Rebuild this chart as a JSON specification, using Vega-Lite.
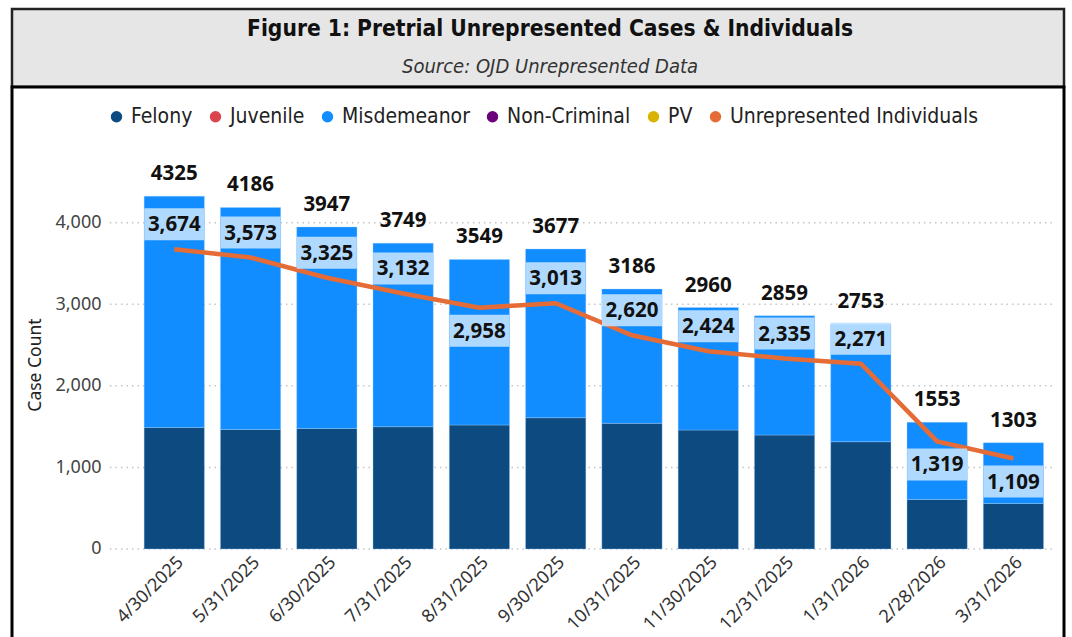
{
  "$schema": "https://vega.github.io/schema/vega-lite/v6.json",
  "padding": {"left": 10, "top": 7, "right": 0, "bottom": 0},
  "background": "white",
  "spacing": 0,
  "bounds": "flush",
  "datasets": {
    "header": [
      {"line": "title", "text": "Figure 1: Pretrial Unrepresented Cases & Individuals"},
      {"line": "subtitle", "text": "Source: OJD Unrepresented Data"}
    ],
    "cases": [
      {"date": "4/30/2025", "type": "Felony", "count": 1490},
      {"date": "4/30/2025", "type": "Misdemeanor", "count": 2835},
      {"date": "5/31/2025", "type": "Felony", "count": 1466},
      {"date": "5/31/2025", "type": "Misdemeanor", "count": 2720},
      {"date": "6/30/2025", "type": "Felony", "count": 1478},
      {"date": "6/30/2025", "type": "Misdemeanor", "count": 2469},
      {"date": "7/31/2025", "type": "Felony", "count": 1499},
      {"date": "7/31/2025", "type": "Misdemeanor", "count": 2250},
      {"date": "8/31/2025", "type": "Felony", "count": 1520},
      {"date": "8/31/2025", "type": "Misdemeanor", "count": 2029},
      {"date": "9/30/2025", "type": "Felony", "count": 1609},
      {"date": "9/30/2025", "type": "Misdemeanor", "count": 2068},
      {"date": "10/31/2025", "type": "Felony", "count": 1540},
      {"date": "10/31/2025", "type": "Misdemeanor", "count": 1646},
      {"date": "11/30/2025", "type": "Felony", "count": 1458},
      {"date": "11/30/2025", "type": "Misdemeanor", "count": 1502},
      {"date": "12/31/2025", "type": "Felony", "count": 1397},
      {"date": "12/31/2025", "type": "Misdemeanor", "count": 1462},
      {"date": "1/31/2026", "type": "Felony", "count": 1315},
      {"date": "1/31/2026", "type": "Misdemeanor", "count": 1438},
      {"date": "2/28/2026", "type": "Felony", "count": 608},
      {"date": "2/28/2026", "type": "Misdemeanor", "count": 945},
      {"date": "3/31/2026", "type": "Felony", "count": 559},
      {"date": "3/31/2026", "type": "Misdemeanor", "count": 744}
    ],
    "summary": [
      {"date": "4/30/2025", "total": 4325, "individuals": 3674},
      {"date": "5/31/2025", "total": 4186, "individuals": 3573},
      {"date": "6/30/2025", "total": 3947, "individuals": 3325},
      {"date": "7/31/2025", "total": 3749, "individuals": 3132},
      {"date": "8/31/2025", "total": 3549, "individuals": 2958},
      {"date": "9/30/2025", "total": 3677, "individuals": 3013},
      {"date": "10/31/2025", "total": 3186, "individuals": 2620},
      {"date": "11/30/2025", "total": 2960, "individuals": 2424},
      {"date": "12/31/2025", "total": 2859, "individuals": 2335},
      {"date": "1/31/2026", "total": 2753, "individuals": 2271},
      {"date": "2/28/2026", "total": 1553, "individuals": 1319},
      {"date": "3/31/2026", "total": 1303, "individuals": 1109}
    ],
    "grid": [{"v": 0}, {"v": 1000}, {"v": 2000}, {"v": 3000}, {"v": 4000}]
  },
  "vconcat": [
    {
      "width": 1052,
      "height": 78,
      "view": {"fill": "#e6e6e6", "stroke": "#222222", "strokeWidth": 2.5},
      "layer": [
        {
          "data": {"name": "header"},
          "transform": [{"filter": "datum.line == 'title'"}],
          "mark": {"type": "text", "font": "DejaVu Sans Condensed", "fontWeight": "bold", "fontSize": 22.6, "color": "#111111", "baseline": "middle", "dx": 12},
          "encoding": {
            "y": {"field": "line", "type": "nominal", "scale": {"type": "point", "domain": ["title", "subtitle"], "padding": 0.526}, "axis": null},
            "text": {"field": "text"}
          }
        },
        {
          "data": {"name": "header"},
          "transform": [{"filter": "datum.line == 'subtitle'"}],
          "mark": {"type": "text", "font": "DejaVu Sans Condensed", "fontStyle": "italic", "fontSize": 20, "color": "#333333", "baseline": "middle", "dx": 12},
          "encoding": {
            "y": {"field": "line", "type": "nominal", "scale": {"type": "point", "domain": ["title", "subtitle"], "padding": 0.526}, "axis": null},
            "text": {"field": "text"}
          }
        }
      ]
    },
    {
      "width": 1052,
      "height": 555,
      "view": {"fill": "white", "stroke": "#000000", "strokeWidth": 3},
      "encoding": {
        "x": {
          "field": "date", "type": "nominal",
          "sort": ["4/30/2025", "5/31/2025", "6/30/2025", "7/31/2025", "8/31/2025", "9/30/2025", "10/31/2025", "11/30/2025", "12/31/2025", "1/31/2026", "2/28/2026", "3/31/2026"],
          "scale": {"paddingInner": 0.21, "paddingOuter": 1.017, "align": 0.866},
          "axis": {"title": null, "orient": "bottom", "offset": -93, "labelAngle": -45, "labelAlign": "right", "labelBaseline": "top", "labelPadding": 4, "labelFontSize": 18, "labelFont": "Noto Sans", "labelColor": "#333333", "domain": false, "ticks": false}
        }
      },
      "layer": [
        {
          "data": {"name": "grid"},
          "mark": {"type": "rule", "color": "#c4c4c4", "strokeDash": [1.5, 4], "strokeWidth": 1.5},
          "encoding": {
            "x": {"datum": "4/30/2025", "type": "nominal", "bandPosition": -0.567},
            "x2": {"datum": "3/31/2026", "bandPosition": 1.15},
            "y": {"field": "v", "type": "quantitative", "scale": {"domain": [-1140, 5663], "nice": false, "zero": false},
              "axis": {"title": "Case Count", "orient": "left", "offset": -100, "values": [0, 1000, 2000, 3000, 4000], "labelExpr": "format(datum.value, ',')", "domain": false, "ticks": false, "grid": false, "labelFontSize": 18, "labelFont": "Noto Sans", "labelColor": "#444444", "labelPadding": 11, "titleFontSize": 17.5, "titleFont": "Noto Sans", "titleFontWeight": "normal", "titleColor": "#222222", "titlePadding": 10}}
          }
        },
        {
          "data": {"name": "cases"},
          "mark": {"type": "bar", "stroke": "#9fd0ff", "strokeWidth": 0.6, "strokeOpacity": 0.6},
          "encoding": {
            "y": {"field": "count", "type": "quantitative", "stack": "zero"},
            "color": {
              "field": "type", "type": "nominal",
              "scale": {
                "domain": ["Felony", "Juvenile", "Misdemeanor", "Non-Criminal", "PV", "Unrepresented Individuals"],
                "range": ["#0c4a80", "#d9444f", "#118dff", "#6b007b", "#d9b300", "#e66c37"]
              },
              "legend": {"title": null, "orient": "none", "legendX": 94, "legendY": 19, "direction": "horizontal", "symbolType": "circle", "symbolSize": 130, "labelFontSize": 21, "labelFont": "DejaVu Sans Condensed", "labelColor": "#222222", "labelLimit": 500, "columnPadding": 12, "labelOffset": 4, "symbolStrokeWidth": 0}
            },
            "order": {"field": "type", "sort": "ascending"}
          }
        },
        {
          "data": {"name": "summary"},
          "mark": {"type": "line", "color": "#e66c37", "strokeWidth": 4.5},
          "encoding": {
            "y": {"field": "individuals", "type": "quantitative"},
            "color": {"datum": "Unrepresented Individuals"}
          }
        },
        {
          "data": {"name": "summary"},
          "transform": [{"filter": {"not": {"field": "date", "oneOf": ["8/31/2025", "2/28/2026", "3/31/2026"]}}}],
          "mark": {"type": "tick", "color": "#bde0ff", "opacity": 0.92, "thickness": 32, "size": 60, "yOffset": -25},
          "encoding": {"y": {"field": "individuals", "type": "quantitative"}}
        },
        {
          "data": {"name": "summary"},
          "transform": [{"filter": {"field": "date", "oneOf": ["8/31/2025", "2/28/2026", "3/31/2026"]}}],
          "mark": {"type": "tick", "color": "#bde0ff", "opacity": 0.92, "thickness": 32, "size": 60, "yOffset": 23},
          "encoding": {"y": {"field": "individuals", "type": "quantitative"}}
        },
        {
          "data": {"name": "summary"},
          "transform": [{"filter": {"not": {"field": "date", "oneOf": ["8/31/2025", "2/28/2026", "3/31/2026"]}}}],
          "mark": {"type": "text", "font": "Noto Sans", "fontWeight": "bold", "fontSize": 20.5, "color": "#111111", "baseline": "middle", "yOffset": -24},
          "encoding": {"y": {"field": "individuals", "type": "quantitative"}, "text": {"field": "individuals", "type": "quantitative", "format": ","}}
        },
        {
          "data": {"name": "summary"},
          "transform": [{"filter": {"field": "date", "oneOf": ["8/31/2025", "2/28/2026", "3/31/2026"]}}],
          "mark": {"type": "text", "font": "Noto Sans", "fontWeight": "bold", "fontSize": 20.5, "color": "#111111", "baseline": "middle", "yOffset": 24},
          "encoding": {"y": {"field": "individuals", "type": "quantitative"}, "text": {"field": "individuals", "type": "quantitative", "format": ","}}
        },
        {
          "data": {"name": "summary"},
          "mark": {"type": "text", "font": "Noto Sans", "fontWeight": "bold", "fontSize": 20.5, "color": "#111111", "baseline": "middle", "yOffset": -22},
          "encoding": {"y": {"field": "total", "type": "quantitative"}, "text": {"field": "total", "type": "quantitative", "format": "d"}}
        }
      ]
    }
  ],
  "resolve": {"legend": {"color": "independent"}},
  "config": {"font": "Noto Sans"}
}
